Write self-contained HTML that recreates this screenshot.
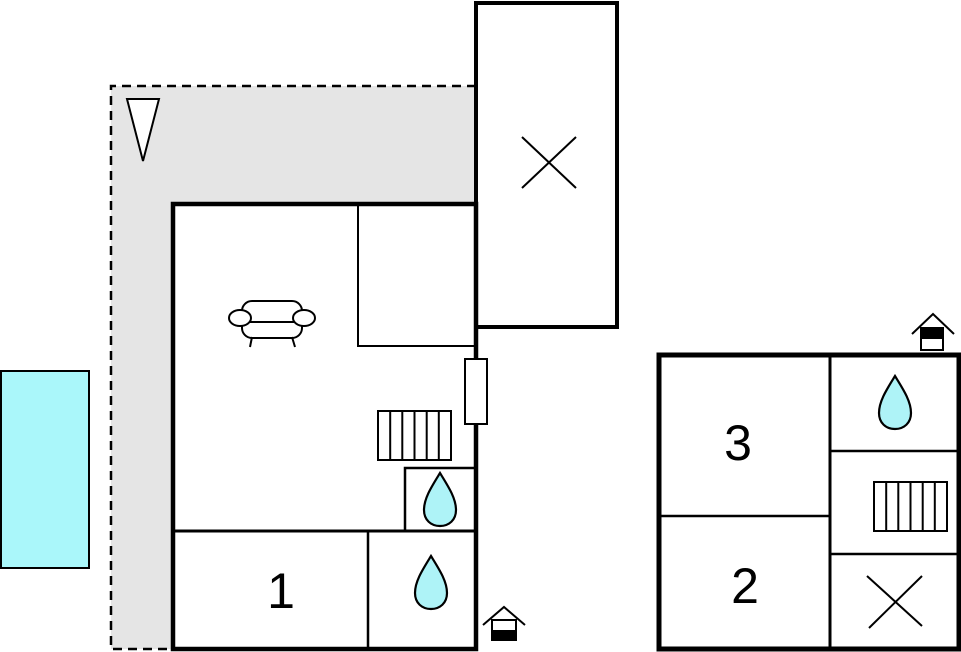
<!DOCTYPE html>
<html><head><style>html,body{margin:0;padding:0;background:#fff}svg{display:block}</style></head><body>
<svg width="961" height="652" viewBox="0 0 961 652" xmlns="http://www.w3.org/2000/svg">
<defs>
<g id="drop"><path d="M0,-27 C8,-14 16,-2 16,10 C16,20 9,26 0,26 C-9,26 -16,20 -16,10 C-16,-2 -8,-14 0,-27 Z" fill="#aef3f7" stroke="#000" stroke-width="2.2"/></g>
<g id="rad" fill="none" stroke="#000" stroke-width="2"><rect x="0" y="0" width="73" height="49" fill="#fff"/><line x1="12.2" y1="0" x2="12.2" y2="49"/><line x1="24.3" y1="0" x2="24.3" y2="49"/><line x1="36.5" y1="0" x2="36.5" y2="49"/><line x1="48.7" y1="0" x2="48.7" y2="49"/><line x1="60.8" y1="0" x2="60.8" y2="49"/></g>
</defs>
<path d="M111,86 H476 V204 H173 V649 H111 Z" fill="#e5e5e5"/>
<path d="M476,86 H111 V649 H173" fill="none" stroke="#000" stroke-width="2.5" stroke-dasharray="9,6"/>
<polygon points="127,99 159,99 143,161" fill="#fff" stroke="#000" stroke-width="2"/>
<rect x="1" y="371" width="88" height="197" fill="#aaf7fa" stroke="#000" stroke-width="2"/>
<rect x="476" y="3" width="141" height="324" fill="#fff" stroke="#000" stroke-width="4"/>
<line x1="522" y1="137" x2="576" y2="188" stroke="#000" stroke-width="2"/>
<line x1="576" y1="137" x2="522" y2="188" stroke="#000" stroke-width="2"/>
<rect x="173" y="204" width="303" height="445" fill="#fff" stroke="#000" stroke-width="4.5"/>
<rect x="358" y="204" width="118" height="142" fill="none" stroke="#000" stroke-width="2"/>
<line x1="173" y1="531" x2="476" y2="531" stroke="#000" stroke-width="3"/>
<line x1="368" y1="531" x2="368" y2="649" stroke="#000" stroke-width="2.5"/>
<rect x="405" y="468" width="71" height="63" fill="none" stroke="#000" stroke-width="2.5"/>
<rect x="465" y="359" width="22" height="65" fill="#fff" stroke="#000" stroke-width="2"/>
<use href="#rad" x="378" y="411"/>
<use href="#drop" x="440" y="500"/>
<use href="#drop" x="431" y="583"/>
<text x="281" y="608" font-family="Liberation Sans, sans-serif" font-size="50" text-anchor="middle">1</text>
<g fill="#fff" stroke="#000" stroke-width="2">
<rect x="242" y="301" width="60" height="37" rx="10"/>
<line x1="252" y1="337" x2="250" y2="347"/><line x1="292" y1="337" x2="295" y2="347"/>
<line x1="250" y1="322" x2="296" y2="322"/>
<ellipse cx="240" cy="318" rx="11" ry="8"/><ellipse cx="304" cy="318" rx="11" ry="8"/>
</g>
<g stroke="#000" stroke-width="2" fill="none">
<polyline points="483,625 504,607 525,625"/>
<rect x="492" y="620" width="24" height="20" fill="#fff"/>
<rect x="492" y="631" width="24" height="9" fill="#000"/>
</g>
<rect x="659" y="355" width="300" height="294" fill="#fff" stroke="#000" stroke-width="5"/>
<line x1="830" y1="355" x2="830" y2="649" stroke="#000" stroke-width="3"/>
<line x1="659" y1="516" x2="830" y2="516" stroke="#000" stroke-width="2.5"/>
<line x1="830" y1="451" x2="959" y2="451" stroke="#000" stroke-width="2.5"/>
<line x1="830" y1="554" x2="959" y2="554" stroke="#000" stroke-width="2.5"/>
<use href="#drop" x="895" y="403"/>
<use href="#rad" x="874" y="482"/>
<line x1="867" y1="576" x2="922" y2="626" stroke="#000" stroke-width="2"/>
<line x1="922" y1="576" x2="869" y2="628" stroke="#000" stroke-width="2"/>
<text x="738" y="460" font-family="Liberation Sans, sans-serif" font-size="50" text-anchor="middle">3</text>
<text x="745" y="603" font-family="Liberation Sans, sans-serif" font-size="50" text-anchor="middle">2</text>
<g stroke="#000" stroke-width="2" fill="none">
<polyline points="912,334 933,314 954,334"/>
<rect x="921" y="328" width="22" height="22" fill="#fff"/>
<rect x="921" y="328" width="22" height="10" fill="#000"/>
</g>
</svg>
</body></html>
